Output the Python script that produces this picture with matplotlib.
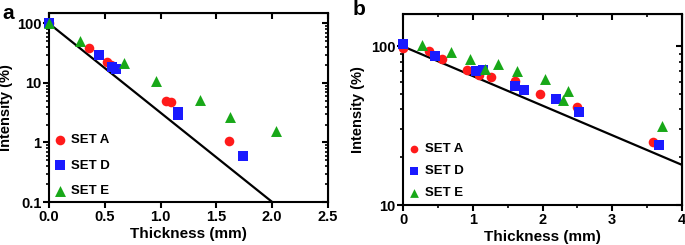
import matplotlib
matplotlib.use("Agg")
import matplotlib.pyplot as plt
import numpy as np
from matplotlib.ticker import LogLocator, NullFormatter, MultipleLocator

plt.rcParams['font.family'] = ['Liberation Sans', 'DejaVu Sans']
plt.rcParams['font.weight'] = 'bold'

# panel a data
a_setA_x = [0.0, 0.36, 0.52, 0.56, 1.05, 1.09, 1.61]
a_setA_y = [100, 38, 22.7, 20, 5.0, 4.8, 1.07]
a_setD_x = [0.0, 0.45, 0.565, 0.60, 1.155, 1.16, 1.74]
a_setD_y = [100, 29.8, 18.7, 17.5, 3.3, 2.9, 0.6]
a_setE_x = [0.0, 0.275, 0.67, 0.955, 1.35, 1.62, 2.03]
a_setE_y = [100, 51, 22, 10.9, 5.2, 2.7, 1.58]
a_fit_x = [0.0, 2.0]
a_fit_y = [100, 0.1]

# panel b data
b_setA_x = [0.0, 0.37, 0.56, 0.92, 1.085, 1.26, 1.61, 1.97, 2.5, 3.58]
b_setA_y = [97, 93, 82.8, 71.3, 66.3, 64.1, 60.2, 50, 41.7, 24.8]
b_setD_x = [0.0, 0.455, 1.04, 1.15, 1.6, 1.73, 2.19, 2.52, 3.67]
b_setD_y = [104, 86.5, 70.3, 71.3, 56.5, 53, 46.6, 38.7, 24]
b_setE_x = [0.27, 0.69, 0.965, 1.18, 1.36, 1.63, 2.04, 2.29, 2.36, 3.72]
b_setE_y = [102, 92, 83, 72, 77.4, 70.3, 62.2, 45.9, 52, 31.3]
b_fit_x = [0.0, 4.0]
b_fit_y = [100, 17.9]

labels = ['SET A', 'SET D', 'SET E']
colors = ['#ff1a1a', '#1a1aff', '#18a818']
markers = ['o', 's', '^']
sizes = [48, 52, 62]


def style_axes(ax, xticks, ylim, xlim, xminor=None):
    ax.set_yscale('log')
    ax.set_xlim(*xlim)
    ax.set_ylim(*ylim)
    ax.set_xticks(xticks)
    if xminor:
        ax.xaxis.set_minor_locator(MultipleLocator(xminor))
    for s in ax.spines.values():
        s.set_linewidth(1.5)
    ax.tick_params(which='major', direction='out', length=4, width=1.5, labelsize=10.5, pad=1.5)
    ax.tick_params(which='minor', direction='out', length=2.5, width=1.2)
    ax.yaxis.set_minor_locator(LogLocator(base=10, subs=np.arange(2, 10)))
    ax.yaxis.set_minor_formatter(NullFormatter())
    # mirrored ticks, pointing inward
    top = ax.secondary_xaxis('top')
    top.set_xticks(xticks)
    if xminor:
        top.xaxis.set_minor_locator(MultipleLocator(xminor))
    top.tick_params(which='major', direction='in', length=4, width=1.5, labeltop=False)
    top.tick_params(which='minor', direction='in', length=2.5, width=1.2, labeltop=False)
    right = ax.secondary_yaxis('right')
    right.tick_params(which='major', direction='in', length=4, width=1.5, labelright=False)
    right.tick_params(which='minor', direction='in', length=2.5, width=1.2, labelright=False)
    right.yaxis.set_minor_locator(LogLocator(base=10, subs=np.arange(2, 10)))
    right.yaxis.set_minor_formatter(NullFormatter())
    ax.set_xlabel('Thickness (mm)', fontsize=11, fontweight='bold')
    ax.set_ylabel('Intensity (%)', fontsize=10.5, fontweight='bold')


fig = plt.figure(figsize=(6.85, 2.45), dpi=100)
# axes placed in pixels: a spans x 49-328, y 13-202 ; b spans x 403-682, y 14-205
ax_a = fig.add_axes([49 / 685, 1 - 202 / 245, 279 / 685, 189 / 245])
ax_b = fig.add_axes([403 / 685, 1 - 205 / 245, 279 / 685, 191 / 245])

# panel a
ax_a.plot(a_fit_x, a_fit_y, color='black', lw=1.6, zorder=2)
for xs, ys, lab, c, m, s in zip([a_setA_x, a_setD_x, a_setE_x], [a_setA_y, a_setD_y, a_setE_y],
                                labels, colors, markers, sizes):
    ax_a.scatter(xs, ys, s=s, c=c, marker=m, label=lab, zorder=3, linewidths=0, clip_on=False)
style_axes(ax_a, [0.0, 0.5, 1.0, 1.5, 2.0, 2.5], (0.1, 150), (0, 2.5))
ax_a.set_yticks([0.1, 1, 10, 100])
ax_a.set_yticklabels(['0.1', '1', '10', '100'])
ax_a.set_xticklabels(['0.0', '0.5', '1.0', '1.5', '2.0', '2.5'])
ax_a.yaxis.set_label_coords(-0.128, 0.5)
ax_a.xaxis.set_label_coords(0.5, -0.13)
ax_a.legend(loc='lower left', bbox_to_anchor=(0.015, 0.025), frameon=False,
            handlelength=1.0, handletextpad=0.35, labelspacing=1.0,
            borderpad=0, borderaxespad=0, prop={'weight': 'bold', 'size': 9.5})

# panel b
ax_b.plot(b_fit_x, b_fit_y, color='black', lw=1.6, zorder=2)
for xs, ys, lab, c, m, s in zip([b_setA_x, b_setD_x, b_setE_x], [b_setA_y, b_setD_y, b_setE_y],
                                labels, colors, markers, sizes):
    ax_b.scatter(xs, ys, s=s, c=c, marker=m, label=lab, zorder=3, linewidths=0, clip_on=False)
style_axes(ax_b, [0, 1, 2, 3, 4], (10, 160), (0, 4), xminor=0.5)
ax_b.set_yticks([10, 100])
ax_b.set_yticklabels(['10', '100'])
ax_b.set_xticklabels(['0', '1', '2', '3', '4'])
ax_b.yaxis.set_label_coords(-0.136, 0.5)
ax_b.xaxis.set_label_coords(0.5, -0.13)
ax_b.legend(loc='lower left', bbox_to_anchor=(0.015, 0.03), frameon=False,
            handlelength=1.0, handletextpad=0.35, labelspacing=0.75, markerscale=0.8,
            borderpad=0, borderaxespad=0, prop={'weight': 'bold', 'size': 9.5})

fig.text(0.003, 0.985, 'a', fontsize=15, fontweight='bold', va='top', ha='left')
fig.text(0.515, 1.0, 'b', fontsize=15, fontweight='bold', va='top', ha='left')

fig.savefig('out.png', dpi=100)
